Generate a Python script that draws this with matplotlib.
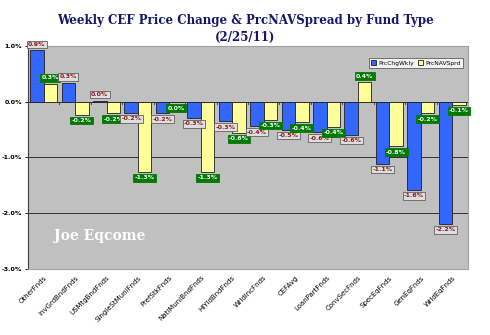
import matplotlib
matplotlib.use("Agg")
import matplotlib.pyplot as plt
import numpy as np

funds = ["OtherFnds", "InvGrdBndFnds", "USMtgBndFnds", "SingleStMuniFnds", "PrefStkFnds",
         "NatlMuniBndFnds", "HiYldBndFnds", "WrldIncFnds", "CEFAvg", "LoanPartFnds",
         "ConvSecFnds", "SpecEqFnds", "GenEqFnds", "WrldEqFnds"]
prc_chg = [0.92, 0.34, 0.02, -0.20, -0.21, -0.29, -0.35, -0.44, -0.50, -0.55,
           -0.59, -1.11, -1.58, -2.19]
nav_sprd = [0.32, -0.23, -0.21, -1.26, -0.01, -1.26, -0.56, -0.32, -0.37, -0.45,
            0.35, -0.80, -0.21, -0.06]
prc_lbl = ["0.9%", "0.3%", "0.0%", "-0.2%", "-0.2%", "-0.3%", "-0.3%", "-0.4%", "-0.5%",
           "-0.6%", "-0.6%", "-1.1%", "-1.6%", "-2.2%"]
nav_lbl = ["0.3%", "-0.2%", "-0.2%", "-1.3%", "0.0%", "-1.3%", "-0.6%", "-0.3%", "-0.4%",
           "-0.4%", "0.4%", "-0.8%", "-0.2%", "-0.1%"]
yticks = [1.0, 0.0, -1.0, -2.0, -3.0]

fig = plt.figure(figsize=(4.9, 3.35), dpi=100)
ax = fig.add_axes([0.057, 0.197, 0.898, 0.666])
ax.set_facecolor("#c0c0c0")

x = np.arange(len(funds))
w = 0.43
ax.bar(x - w / 2, prc_chg, w, color="#3366ff", edgecolor="#202020", lw=0.6,
       label="PrcChgWkly", zorder=3)
ax.bar(x + w / 2, nav_sprd, w, color="#ffff99", edgecolor="#202020", lw=0.6,
       label="PrcNAVSprd", zorder=3)

# data labels: gray boxes for price change, green for spread
for i in range(len(funds)):
    for val, txt, dx, fc, tc, ec in [
        (prc_chg[i], prc_lbl[i], -w / 2, "#dedede", "#8b1a1a", "#606060"),
        (nav_sprd[i], nav_lbl[i], w / 2, "#007a00", "white", "#007a00"),
    ]:
        up = val > 0.005
        ax.annotate(txt, (x[i] + dx, val), xytext=(0, 2.5 if up else -2.5),
                    textcoords="offset points", ha="center",
                    va="bottom" if up else "top", fontsize=4.5, color=tc,
                    fontweight="bold", zorder=5, annotation_clip=False,
                    bbox=dict(boxstyle="square,pad=0.22", fc=fc, ec=ec, lw=0.6))

ax.set_xlim(-0.5, len(funds) - 0.5)
ax.set_ylim(-3.0, 1.0)
ax.set_yticks(yticks)
ax.set_yticklabels([f"{v:.1f}%" for v in yticks], fontsize=4.6, fontweight="bold")
ax.yaxis.grid(True, color="#303030", lw=0.7, zorder=1)
ax.axhline(0, color="#303030", lw=0.7, zorder=2)
ax.set_xticks(x)
ax.set_xticklabels(funds, rotation=45, ha="right", rotation_mode="anchor",
                   fontsize=5)
ax.tick_params(axis="x", length=0, pad=4)
ax.tick_params(axis="y", length=2.5, width=0.6, pad=1.5)
for b in np.arange(0.5, len(funds) - 0.5):
    ax.plot([b, b], [0, -0.05], color="#303030", lw=0.6, zorder=2)
for s in ["top", "right"]:
    ax.spines[s].set_color("#a0a0a0")
ax.spines["left"].set_color("#404040")
ax.spines["bottom"].set_color("#a0a0a0")

leg = ax.legend(loc="upper right", ncol=2, fontsize=4.3, frameon=True, fancybox=False,
                edgecolor="#404040", handlelength=0.8, handleheight=0.8,
                columnspacing=0.8, handletextpad=0.3, borderpad=0.4,
                bbox_to_anchor=(0.995, 0.96))
leg.get_frame().set_linewidth(0.6)

ax.text(0.06, 0.13, "Joe Eqcome", transform=ax.transAxes, fontsize=10,
        color="white", fontweight="bold", family="DejaVu Serif", zorder=4)

fig.text(0.5, 0.94, "Weekly CEF Price Change & PrcNAVSpread by Fund Type",
         ha="center", va="center", fontsize=8.5, fontweight="bold",
         family="DejaVu Serif", color="#15156b")
fig.text(0.5, 0.887, "(2/25/11)", ha="center", va="center", fontsize=8.5,
         fontweight="bold", family="DejaVu Serif", color="#15156b")

fig.savefig("out.png", dpi=100)
